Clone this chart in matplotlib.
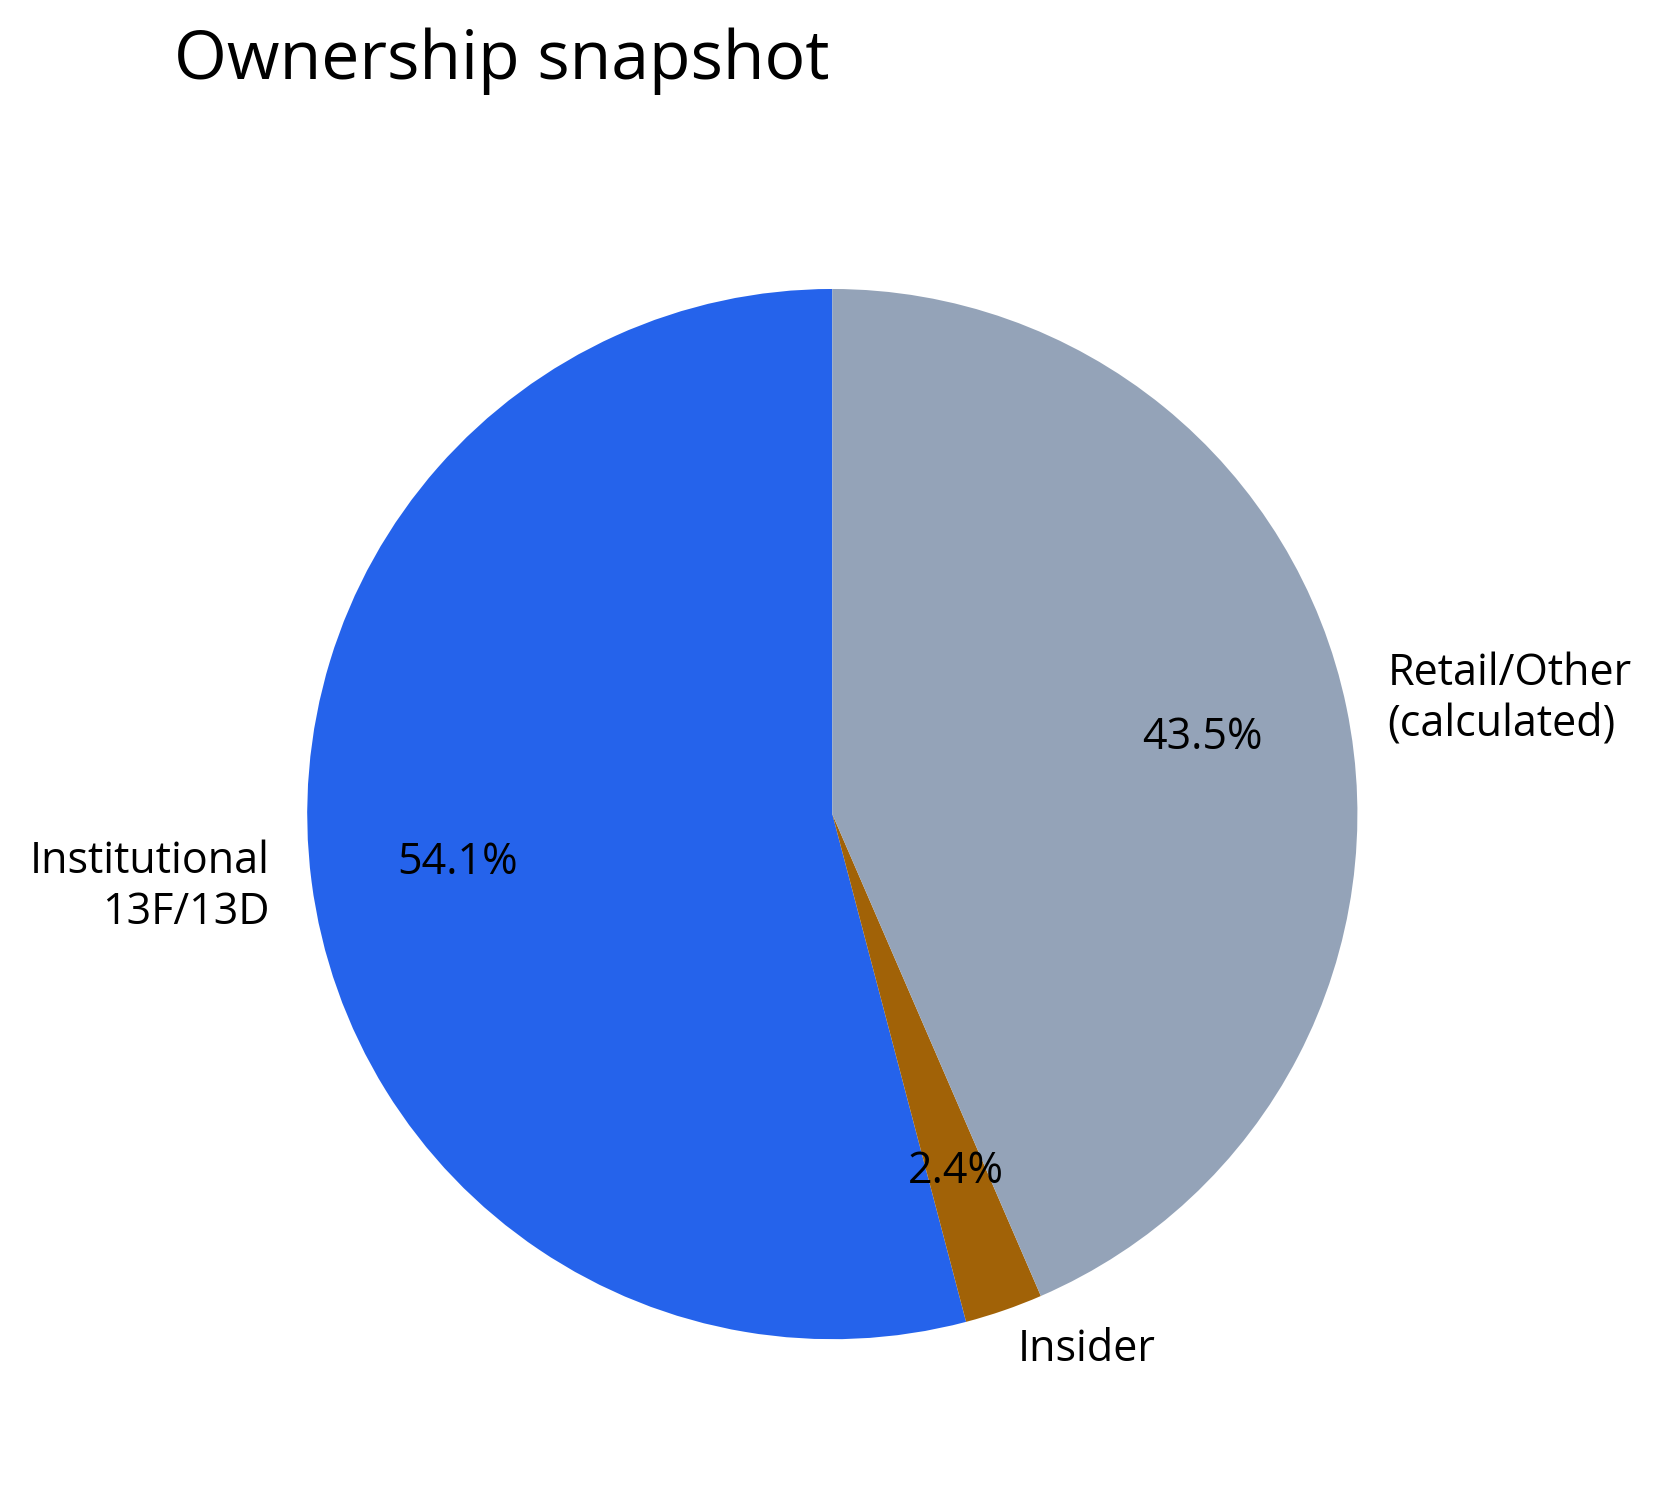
import matplotlib
matplotlib.use("Agg")
import matplotlib.pyplot as plt

plt.rcParams['font.family'] = ['Open Sans', 'DejaVu Sans']

# Data
labels = ['Institutional\n13F/13D', 'Insider', 'Retail/Other\n(calculated)']
shares = [54.1, 2.4, 43.5]
colors = ['#2563eb', '#a16207', '#94a3b8']

fig = plt.figure(figsize=(8.29, 7.51), dpi=200)
ax = fig.add_axes([0.106, 0.021, 0.792, 0.874])

wedges, texts, autotexts = ax.pie(
    shares, labels=labels, colors=colors, autopct='%1.1f%%',
    startangle=90, counterclock=True, pctdistance=0.72, labeldistance=1.08,
    textprops={'fontsize': 15.5},
)
ax.set_aspect('equal')

fig.text(0.105, 0.959, 'Ownership snapshot', fontsize=24.5, ha='left', va='center')

fig.savefig('out.png', dpi=200, facecolor='white')
